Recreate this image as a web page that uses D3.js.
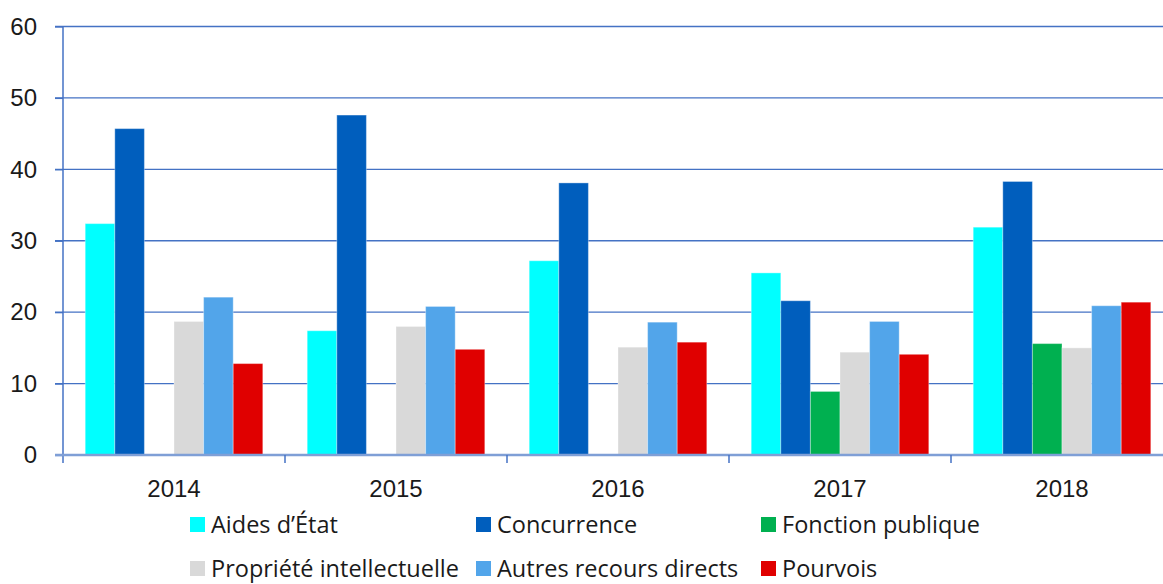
<!DOCTYPE html>
<meta charset="utf-8">
<style>
body { margin: 0; background: #fff; }
svg { display: block; font-family: "Open Sans", sans-serif; }
.grid line { stroke: #4472c4; stroke-width: 1.3; }
.axis text { font-size: 24px; fill: #1a1a1a; }
.legend text { font-size: 23.5px; fill: #1a1a1a; }
</style>
<svg width="1163" height="584"></svg>
<script src="https://d3js.org/d3.v7.min.js"></script>
<script>

var years = ["2014", "2015", "2016", "2017", "2018"];
var series = ["Aides d\u2019\u00c9tat", "Concurrence", "Fonction publique",
              "Propri\u00e9t\u00e9 intellectuelle", "Autres recours directs", "Pourvois"];
var colors = ["#00ffff", "#005ebd", "#00b050", "#d9d9d9", "#52a5ea", "#e00000"];

// one array per series, in order of years
var aidesEtat      = [32.4, 17.4, 27.2, 25.5, 31.9];
var concurrence    = [45.7, 47.6, 38.1, 21.6, 38.3];
var fonctionPub    = [null, null, null, 8.9, 15.6];
var propriete      = [18.7, 18.0, 15.1, 14.4, 15.0];
var autresRecours  = [22.1, 20.8, 18.6, 18.7, 20.9];
var pourvois       = [12.8, 14.8, 15.8, 14.1, 21.4];
var yTicks = [0, 10, 20, 30, 40, 50, 60];

var values = [aidesEtat, concurrence, fonctionPub, propriete, autresRecours, pourvois];

var svg = d3.select("svg");

var x0 = d3.scaleBand().domain(years).range([63, 1173]);
var x1 = d3.scaleBand().domain(series).range([0, x0.bandwidth()]).paddingOuter(0.75);
var y = d3.scaleLinear().domain([0, 60]).range([455, 26.5]);

// gridlines
svg.append("g")
    .attr("class", "grid")
  .selectAll("line").data(yTicks.filter(function(d) { return d > 0; }))
  .enter().append("line")
    .attr("x1", 55).attr("x2", 1163)
    .attr("y1", function(d) { return y(d); })
    .attr("y2", function(d) { return y(d); });

// bars
var rows = [];
years.forEach(function(yr, i) {
  series.forEach(function(s, j) {
    if (values[j][i] != null) rows.push({year: yr, s: s, j: j, v: values[j][i]});
  });
});

svg.append("g").selectAll("rect").data(rows).enter().append("rect")
    .attr("x", function(d) { return x0(d.year) + x1(d.s); })
    .attr("y", function(d) { return y(d.v); })
    .attr("width", x1.bandwidth())
    .attr("height", function(d) { return y(0) - y(d.v); })
    .style("fill", function(d) { return colors[d.j]; })
    .style("stroke", "#fff")
    .style("stroke-opacity", 0.35)
    .style("stroke-width", 1);

// y axis
var yAxis = svg.append("g")
    .attr("class", "axis")
    .attr("transform", "translate(63,0)")
    .call(d3.axisLeft(y).tickValues(yTicks).tickSize(8).tickPadding(18));
yAxis.select(".domain").remove();
yAxis.selectAll(".tick line").style("stroke", "#4472c4").style("stroke-width", 1.3);
yAxis.append("line")
    .attr("x1", 0).attr("x2", 0).attr("y1", y(60)).attr("y2", 463)
    .style("stroke", "#4472c4").style("stroke-width", 1.5);

// x axis
var xAxis = svg.append("g")
    .attr("class", "axis")
    .attr("transform", "translate(0," + y(0) + ")")
    .call(d3.axisBottom(x0).tickSize(0).tickPadding(25));
xAxis.select(".domain").remove();
xAxis.append("line")
    .attr("x1", 55).attr("x2", 1163).attr("y1", 0).attr("y2", 0)
    .style("stroke", "#7f9fd6").style("stroke-width", 2.5);
xAxis.selectAll(".sep").data(years.slice(1)).enter().append("line")
    .attr("x1", function(d) { return x0(d); })
    .attr("x2", function(d) { return x0(d); })
    .attr("y1", 0).attr("y2", 8)
    .style("stroke", "#4472c4").style("stroke-width", 1.5);

// legend
var legendX = [190, 476, 761];
var legendY = [525, 569];
var legend = svg.append("g").attr("class", "legend")
  .selectAll("g").data(series).enter().append("g")
    .attr("transform", function(d, i) {
      return "translate(" + legendX[i % 3] + "," + legendY[Math.floor(i / 3)] + ")";
    });
legend.append("rect")
    .attr("x", 0).attr("y", -8).attr("width", 15).attr("height", 15)
    .style("fill", function(d, i) { return colors[i]; });
legend.append("text")
    .attr("x", 21).attr("y", 0).attr("dy", "0.36em")
    .text(function(d) { return d; });

</script>
